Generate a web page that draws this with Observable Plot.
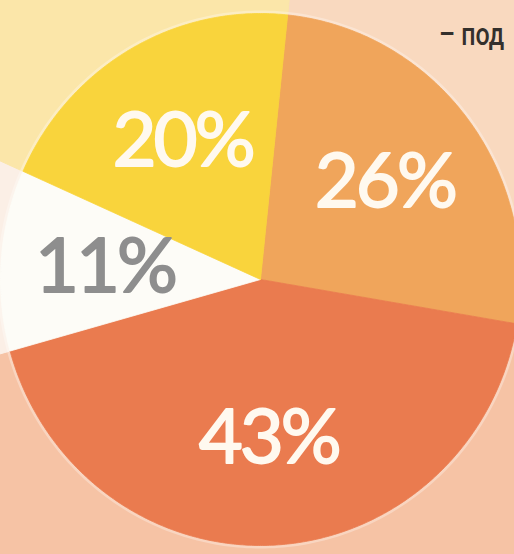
<!DOCTYPE html>
<html><head><meta charset="utf-8">
<script src="https://cdn.jsdelivr.net/npm/d3@7"></script>
<script src="https://cdn.jsdelivr.net/npm/@observablehq/plot@0.6"></script>
<style>
html,body{margin:0;padding:0;background:#f8d6bd;overflow:hidden;}
#wrap{position:relative;width:514px;height:554px;overflow:hidden;}
#note{position:absolute;left:439px;top:15px;font-family:"Roboto","Liberation Sans",sans-serif;font-size:32px;font-weight:500;color:#34302c;white-space:nowrap;transform:scaleX(0.78);transform-origin:0 0;}
g[font-size="76"] text{letter-spacing:-3px;}
</style></head><body><div id="wrap"></div>
<script>
// Data (clockwise, starting just right of 12 o'clock)
const values = [26, 43, 11, 20];
const labels = ["26%", "43%", "11%", "20%"];
const sliceColors = ["#f0a55b", "#ea7b4f", "#fdfcf7", "#f9d43c"];
const backColors = ["#f9d9bf", "#f6c3a5", "#fbefe6", "#fbe6a9"];
const labelColors = ["#fff9ef", "#fff9ef", "#8e8e8e", "#fff9ef"];
const noteText = "– под";

const startDeg = 6;
const total = d3.sum(values);
const cum = d3.cumsum(values);
const slices = values.map((v, i) => {
  const a0 = startDeg + 360 * (cum[i] - v) / total;
  const a1 = startDeg + 360 * cum[i] / total;
  return {i, label: labels[i], a0, a1, color: sliceColors[i], back: backColors[i], lc: labelColors[i]};
});
const rad = d => d * Math.PI / 180;
function wedge(s, r, colorKey) {
  const pts = [{x: 0, y: 0, k: s.i, c: s[colorKey]}];
  const n = Math.ceil((s.a1 - s.a0) / 0.5);
  for (let j = 0; j <= n; j++) {
    const a = rad(s.a0 + (s.a1 - s.a0) * j / n);
    pts.push({x: r * Math.sin(a), y: r * Math.cos(a), k: s.i, c: s[colorKey]});
  }
  pts.push({x: 0, y: 0, k: s.i, c: s[colorKey]});
  return pts;
}
const backPts = slices.flatMap(s => wedge(s, 3, "back"));
const piePts = slices.flatMap(s => wedge(s, 1, "color"));
const ring = d3.range(0, 361, 1).map(a => ({x: Math.sin(rad(a)), y: Math.cos(rad(a))}));
const labelPts = slices.map(s => {
  const m = rad((s.a0 + s.a1) / 2);
  return {x: 0.6 * Math.sin(m), y: 0.6 * Math.cos(m), label: s.label, c: s.lc};
});

const chart = Plot.plot({
  width: 514, height: 554, margin: 0,
  x: {domain: [-1, 1], range: [0, 520], axis: null},
  y: {domain: [-1, 1], range: [545, 13], axis: null},
  color: {type: "identity"},
  style: {background: "transparent"},
  marks: [
    Plot.line(backPts, {x: "x", y: "y", z: "k", fill: "c", stroke: "c", strokeWidth: 1, clip: true}),
    Plot.line(ring, {x: "x", y: "y", stroke: "#ffffff", strokeOpacity: 0.3, strokeWidth: 6}),
    Plot.line(piePts, {x: "x", y: "y", z: "k", fill: "c", stroke: "c", strokeWidth: 0.8}),
    Plot.text(labelPts, {x: "x", y: "y", text: "label", fill: "c", stroke: "c", strokeWidth: 1.8, fontSize: 76, fontFamily: "Lato, 'Open Sans', sans-serif", fontWeight: "normal"})
  ]
});
const wrap = document.getElementById("wrap");
wrap.appendChild(chart);
const note = document.createElement("div");
note.id = "note";
note.textContent = noteText;
wrap.appendChild(note);
</script>
</body></html>
